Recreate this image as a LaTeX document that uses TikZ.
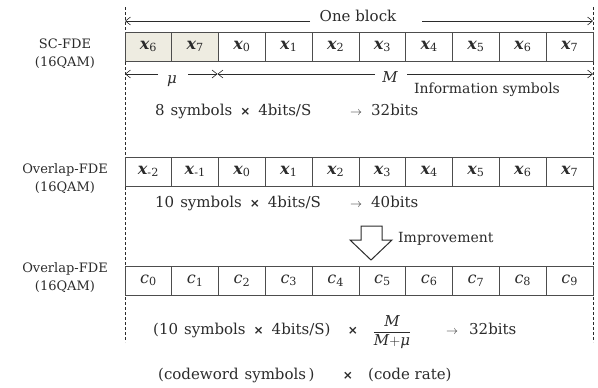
\documentclass[tikz,border=0pt]{standalone}
\usepackage{amsmath}
\usepackage{fontspec}
\setmainfont{DejaVu Serif}
\newfontfamily\symsans{DejaVu Sans}
\usetikzlibrary{arrows.meta}

\definecolor{ink}{HTML}{2B2B2B}
\definecolor{cellline}{HTML}{4D4D4D}
\definecolor{guardfill}{HTML}{EEECE1}

% multiplication sign and short arrow used in the bit counts
\newcommand\tms{{\symsans\bfseries\fontsize{12}{12}\selectfont ×}}
\newcommand\rarr{{\fontsize{13}{13}\selectfont$\rightarrow$}}
% bold italic symbol with a plain subscript
\newcommand\bx[1]{{\bfseries\itshape x}\textsubscript{\normalfont #1}}
\newcommand\cc[1]{{\itshape c}\textsubscript{\normalfont #1}}

\begin{document}
\begin{tikzpicture}[x=1pt,y=-1pt,
  every node/.style={text=ink},
  cell/.style={draw=cellline, line width=0.7pt, minimum width=46.8pt,
    minimum height=29pt, inner sep=0pt, font=\fontsize{16}{16}\selectfont},
  guard/.style={cell, fill=guardfill},
  rowlab/.style={align=center, font=\fontsize{13}{18}\selectfont},
  body/.style={font=\fontsize{15}{18}\selectfont, inner sep=0pt,
    text height=0.75em, text depth=0.25em},
  note/.style={body, font=\fontsize{14}{16}\selectfont},
  span/.style={-{Straight Barb[length=5pt,width=8pt]}, line width=0.6pt, draw=ink},
  edge/.style={draw=ink, line width=0.7pt, dash pattern=on 3pt off 2pt},
]
\useasboundingbox (0,0) rectangle (598,388);

% block boundaries
\coordinate (eLt) at (125,7);  \coordinate (eLb) at (125,342);
\coordinate (eRt) at (593,7);  \coordinate (eRb) at (593,342);
\draw[edge] (eLt) -- (eLb);
\draw[edge] (eRt) -- (eRb);

% row labels
\node[rowlab] (lab1) at (65,54)    {SC-FDE\\(16QAM)};
\node[rowlab] (lab2) at (65,179)   {Overlap-FDE\\(16QAM)};
\node[rowlab] (lab3) at (65,277.5) {Overlap-FDE\\(16QAM)};

% SC-FDE block: cyclic prefix + information symbols
\foreach \lab/\sty [count=\i from 0] in
  {6/guard,7/guard,0/cell,1/cell,2/cell,3/cell,4/cell,5/cell,6/cell,7/cell}
  \node[\sty] (sc\i) at ({148.4+46.8*\i},46.5) {\bx{\lab}};

% overlap FDE block
\foreach \lab [count=\i from 0] in {-2,-1,0,1,2,3,4,5,6,7}
  \node[cell] (ov\i) at ({148.4+46.8*\i},171.5) {\bx{\lab}};

% coded overlap FDE block
\foreach \lab [count=\i from 0] in {0,1,2,3,4,5,6,7,8,9}
  \node[cell] (cw\i) at ({148.4+46.8*\i},280.5) {\cc{\lab}};

% one block span
\node[body] (oneblk) at (358,19) {One block};
\coordinate (obL) at (125,21);   \coordinate (obR) at (593,21);
\coordinate (obgl) at (310,21);  \coordinate (obgr) at (422,21);
\draw[span] (obgl) -- (obL);
\draw[span] (obgr) -- (obR);

% mu and M spans
\node[body] (mu) at (172,81) {\itshape μ};
\node[body] (M) at (390,80) {\itshape M};
\node[note] (info) at (487,91) {Information symbols};
\coordinate (muL) at (125,74);   \coordinate (muR) at (217.5,74);
\coordinate (mugl) at (158,74);  \coordinate (mugr) at (188,74);
\coordinate (Mgl) at (375,74);   \coordinate (Mgr) at (407,74);
\coordinate (MR) at (593,74);
\draw[span] (mugl) -- (muL);
\draw[span] (mugr) -- (muR);
\draw[span] (Mgl) -- (muR);
\draw[span] (Mgr) -- (MR);

% bit counts
\node[body, anchor=west] (bits1) at (155,113)
  {8\hspace{6pt}symbols\hspace{8pt}\tms\hspace{8pt}4bits/S};
\node[body, anchor=west] (res1) at (350,113) {\rarr\hspace{9pt}32bits};

\node[body, anchor=west] (bits2) at (155,205)
  {10\hspace{6pt}symbols\hspace{8pt}\tms\hspace{8pt}4bits/S};
\node[body, anchor=west] (res2) at (350,205) {\rarr\hspace{9pt}40bits};

% improvement arrow
\draw[ink, line width=1pt, fill=white, line join=miter]
  (361,226) -- (382,226) -- (382,240) -- (392,240) -- (371,260)
  -- (350,240) -- (361,240) -- cycle;
\node[note, anchor=west] (impr) at (398,240) {Improvement};

% coded bit count
\node[body, anchor=west] (bits3) at (153,332)
  {(10\hspace{6pt}symbols\hspace{8pt}\tms\hspace{8pt}4bits/S)};
\node[body] (x3) at (353,332) {\tms};
\node[inner sep=0pt, font=\fontsize{15}{18}\selectfont] (rate) at (392,332)
  {$\dfrac{\textit{M}}{\textit{M}{+}\textit{μ}}$};
\node[body, anchor=west] (res3) at (446,332) {\rarr\hspace{11pt}32bits};

\node[body, anchor=west] (cwsym) at (158,377) {(codeword\hspace{6pt}symbols\,)};
\node[body] (x4) at (348,377) {\tms};
\node[body, anchor=west] (crate) at (368,377) {(code rate)};
\end{tikzpicture}
\end{document}
